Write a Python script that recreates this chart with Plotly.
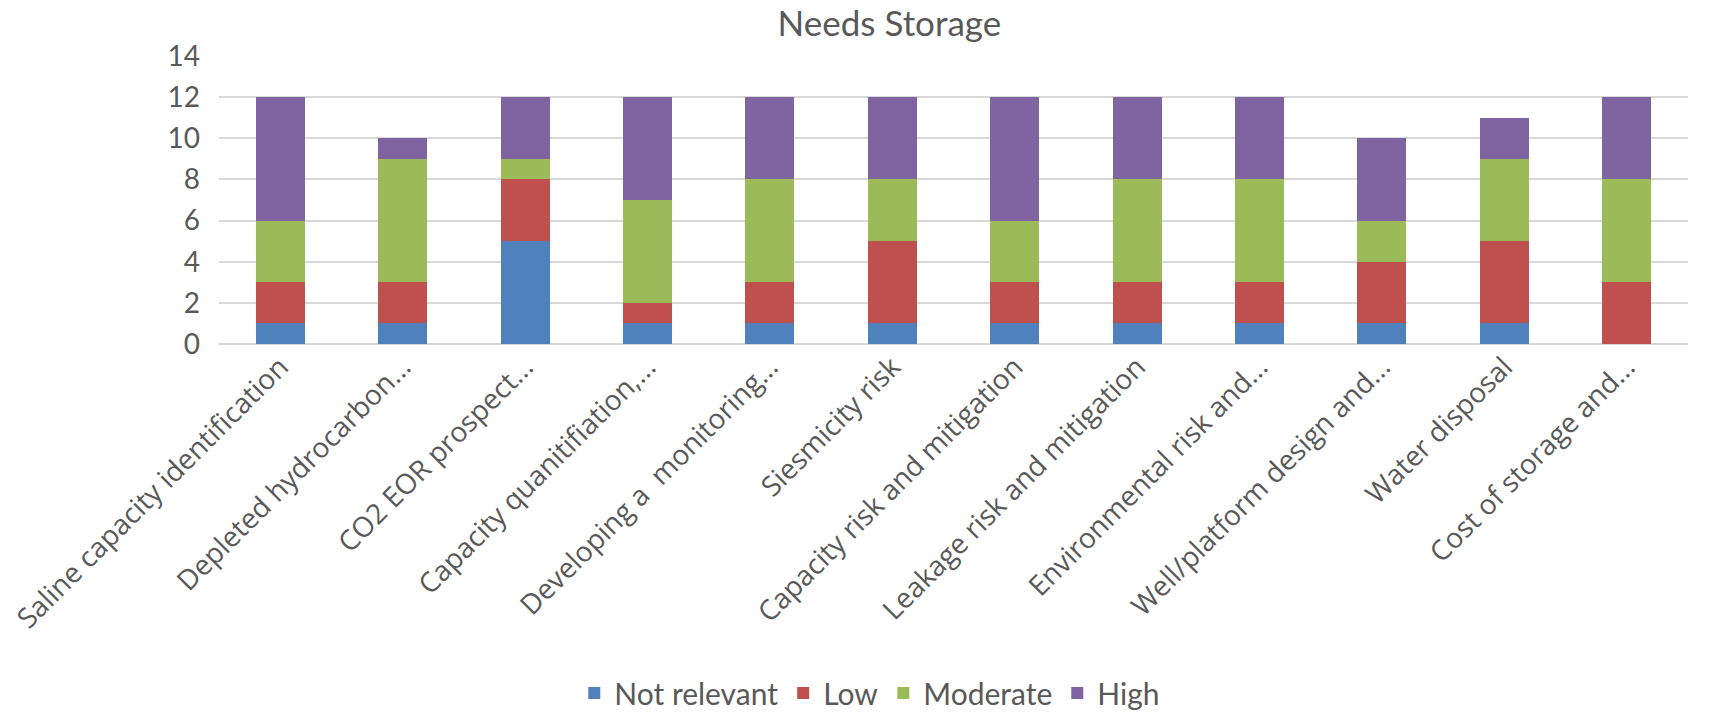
import plotly.graph_objects as go

categories = [
    "Saline capacity identification",
    "Depleted hydrocarbon...",
    "CO2 EOR prospect...",
    "Capacity quanitifiation,...",
    "Developing a  monitoring...",
    "Siesmicity risk",
    "Capacity risk and mitigation",
    "Leakage risk and mitigation",
    "Environmental risk and...",
    "Well/platform design and...",
    "Water disposal",
    "Cost of storage and...",
]

not_relevant = [1, 1, 5, 1, 1, 1, 1, 1, 1, 1, 1, 0]
low = [2, 2, 3, 1, 2, 4, 2, 2, 2, 3, 4, 3]
moderate = [3, 6, 1, 5, 5, 3, 3, 5, 5, 2, 4, 5]
high = [6, 1, 3, 5, 4, 4, 6, 4, 4, 4, 2, 4]

y_ticks = [0, 2, 4, 6, 8, 10, 12, 14]

series = [
    ("Not relevant", not_relevant, "#4F81BD"),
    ("Low", low, "#C0504D"),
    ("Moderate", moderate, "#9BBB59"),
    ("High", high, "#8064A2"),
]

fig = go.Figure()
for name, vals, color in series:
    fig.add_trace(go.Bar(
        name=name, x=categories, y=vals,
        marker=dict(color=color, line=dict(width=0)),
    ))

text_color = "#595959"
fig.update_layout(
    barmode="stack",
    bargap=0.6,
    width=1717, height=713,
    margin=dict(l=219, r=29, t=56, b=369, autoexpand=False),
    paper_bgcolor="white",
    plot_bgcolor="white",
    title=dict(
        text="Needs Storage",
        x=0.518, xanchor="center", xref="container",
        y=1 - 24 / 713, yanchor="middle", yref="container",
        font=dict(family="Lato", size=35, color=text_color),
    ),
    xaxis=dict(
        tickangle=-45,
        tickfont=dict(family="Open Sans", size=28, color=text_color),
        showgrid=False, showline=False, ticks="",
        automargin=False,
    ),
    yaxis=dict(
        range=[0, 14],
        tickvals=y_ticks,
        tickfont=dict(family="Lato", size=28, color=text_color),
        showgrid=True, gridcolor="#d9d9d9", gridwidth=1.5,
        zeroline=True, zerolinecolor="#d9d9d9", zerolinewidth=1.5,
        showline=False, ticks="", ticklabelstandoff=18,
        automargin=False,
    ),
    legend=dict(
        orientation="h",
        x=0.443, xanchor="center",
        y=(344 - 693) / 288, yanchor="middle",
        font=dict(family="Lato", size=30, color=text_color),
        traceorder="normal",
        itemwidth=30,
        entrywidth=0,
        tracegroupgap=0,
    ),
)

fig.write_html("out.html")
